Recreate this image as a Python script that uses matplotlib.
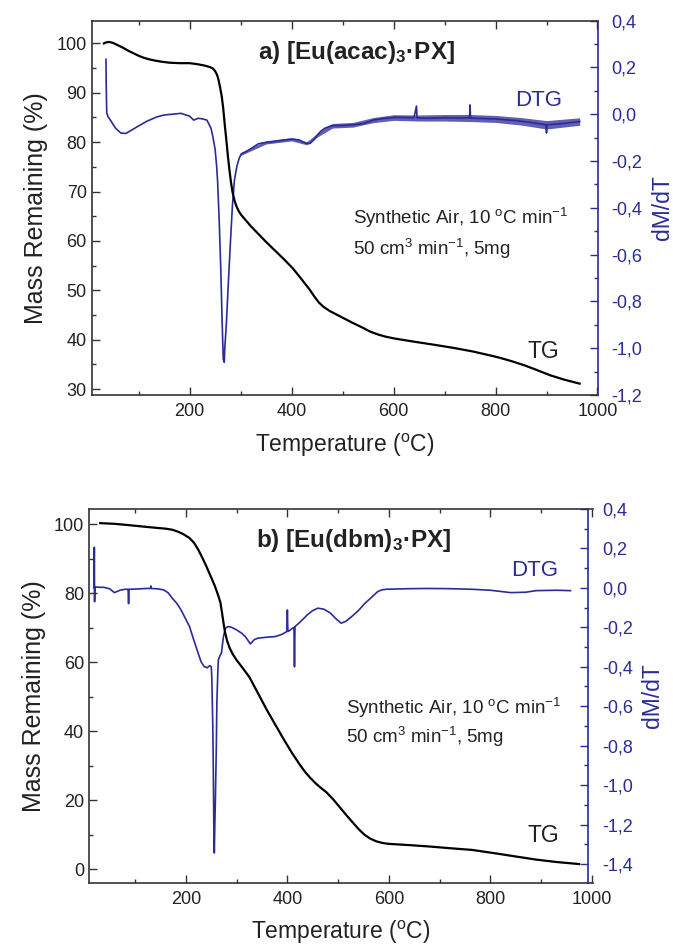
import matplotlib
matplotlib.use("Agg")
import matplotlib.pyplot as plt
from matplotlib.ticker import MultipleLocator, FuncFormatter

plt.rcParams['font.family'] = ['Liberation Sans', 'DejaVu Sans']
plt.rcParams['mathtext.fontset'] = 'custom'
plt.rcParams['mathtext.rm'] = 'Liberation Sans'
plt.rcParams['mathtext.bf'] = 'Liberation Sans:bold'
plt.rcParams['mathtext.it'] = 'Liberation Sans:italic'

# ---------------- Panel a) [Eu(acac)3·PX] ----------------
a_tg_T = [32, 36, 42, 50, 60, 70, 80, 90, 100, 110, 120, 133, 145, 160, 180, 200, 215, 230, 240, 246, 250, 254, 257, 260,
          263, 266, 269, 272, 275, 278, 281, 284, 288, 292, 296, 301, 310, 320, 335, 350, 370, 385, 402, 420, 435, 445,
          453, 462, 475, 490, 503, 520, 540, 555, 571, 585, 604, 640, 672, 720, 756, 790, 806, 830, 857, 880, 907, 935, 965]
a_tg_M = [100.0, 100.2, 100.3, 100.1, 99.6, 99.1, 98.5, 98.0, 97.5, 97.1, 96.8, 96.5, 96.3, 96.1, 96.0, 96.0, 95.8, 95.5, 95.2, 94.9, 94.4, 93.6, 92.5, 91.0,
          89.3, 86.8, 83.5, 80.5, 77.3, 74.5, 72.0, 70.0, 68.2, 67.0, 66.1, 65.3, 64.2, 63.0, 61.4, 59.8, 57.8, 56.3, 54.5, 52.2, 50.2, 48.7,
          47.6, 46.7, 45.8, 45.0, 44.3, 43.4, 42.4, 41.6, 41.0, 40.6, 40.2, 39.6, 39.1, 38.3, 37.6, 36.8, 36.4, 35.7, 34.8, 33.9, 32.8, 31.9, 31.1]

a_dtg_T = [36, 36.5, 37.5, 40, 44, 55, 65, 75, 82, 100, 116, 135, 150, 165, 183, 200, 208, 217, 226, 234, 242, 246,
           250, 253, 255, 258, 261, 264, 266, 268, 269, 272, 276, 280, 284, 288, 293, 297, 301, 310, 318, 335, 350, 368,
           385, 402, 415, 427, 436, 444, 450, 457, 465, 478, 500, 520, 540, 562, 580, 604, 640, 645, 646, 650, 672, 700,
           730, 749, 750, 751, 756, 800, 840, 870, 899, 900, 901, 930, 965]
a_dtg_d = [0.235, 0.12, 0.005, -0.01, -0.023, -0.06, -0.08, -0.082, -0.073, -0.05, -0.03, -0.012, -0.003, 0.0, 0.004, -0.008, -0.025, -0.017, -0.02, -0.025, -0.06, -0.1,
           -0.15, -0.22, -0.29, -0.45, -0.65, -0.9, -1.046, -1.06, -1.0, -0.9, -0.72, -0.55, -0.39, -0.28, -0.22, -0.19, -0.17, -0.16, -0.15, -0.126, -0.12, -0.116,
           -0.11, -0.106, -0.11, -0.123, -0.125, -0.109, -0.09, -0.073, -0.06, -0.049, -0.048, -0.045, -0.04, -0.024, -0.018, -0.013, -0.015, 0.035, -0.015, -0.016, -0.017, -0.015,
           -0.016, -0.015, 0.04, -0.016, -0.017, -0.02, -0.027, -0.035, -0.045, -0.08, -0.045, -0.04, -0.031]

# noise envelope of the DTG trace
a_band_T = [300, 350, 400, 430, 450, 480, 520, 560, 600, 650, 700, 750, 800, 850, 900, 965]
a_band_lo = [-0.176, -0.127, -0.114, -0.131, -0.098, -0.059, -0.055, -0.036, -0.026, -0.029, -0.029, -0.031, -0.035, -0.046, -0.063, -0.047]
a_band_hi = [-0.164, -0.113, -0.100, -0.117, -0.082, -0.039, -0.035, -0.014, -0.002, -0.003, -0.001, -0.001, -0.005, -0.014, -0.027, -0.015]

# ---------------- Panel b) [Eu(dbm)3·PX] ----------------
b_tg_T = [31, 60, 89, 130, 160, 173, 185, 195, 207, 216, 224, 232, 240, 248, 257, 264, 268, 271, 274, 277, 281, 286, 292,
          300, 312, 325, 340, 359, 375, 393, 410, 425, 435, 445, 455, 465, 477, 490, 502, 515, 528, 540, 552, 563, 575,
          588, 600, 640, 679, 720, 764, 806, 850, 890, 930, 975]
b_tg_M = [100.3, 100.1, 99.7, 99.1, 98.7, 98.4, 97.8, 97.1, 96.0, 94.6, 92.7, 90.4, 87.9, 85.2, 82.1, 79.2, 77.3, 74.5, 71.5, 68.8, 66.3, 64.2, 62.4,
          60.6, 58.3, 55.7, 51.6, 46.3, 42.2, 37.6, 33.5, 30.2, 28.2, 26.5, 25.0, 23.7, 22.3, 20.3, 18.2, 15.9, 13.7, 11.7, 10.0, 8.9, 8.1,
          7.6, 7.35, 7.0, 6.6, 6.1, 5.6, 4.7, 3.7, 2.8, 2.1, 1.5]

b_dtg_T = [19, 19.5, 20, 20.5, 21, 30, 38, 50, 59, 70, 80, 86, 87, 88, 100, 122, 130, 131, 132, 145, 156, 165, 173, 182, 190, 198,
           207, 215, 224, 230, 236, 242, 247, 250, 251, 253, 254, 255, 256, 257, 258, 260, 261, 263, 264, 267, 270, 274, 278,
           283, 290, 300, 310, 317, 322, 327, 335, 342, 360, 376, 390, 399, 400, 401, 405, 410, 413, 414, 415, 420, 426, 440, 450,
           460, 472, 485, 495, 506, 515, 527, 540, 553, 565, 578, 586, 595, 640, 679, 720, 764, 800, 840, 870, 890, 930, 958]
b_dtg_d = [0.0, 0.206, -0.07, 0.0, 0.005, 0.003, 0.003, -0.005, -0.024, -0.012, -0.007, -0.007, -0.08, -0.007, -0.006, -0.003, -0.003, 0.01, -0.003, -0.005, -0.01, -0.025, -0.052, -0.078, -0.11, -0.15,
           -0.195, -0.26, -0.33, -0.375, -0.399, -0.405, -0.394, -0.40, -0.45, -0.7, -0.92, -1.2, -1.344, -1.2, -1.09, -0.8, -0.585, -0.42, -0.365, -0.345, -0.331, -0.247, -0.205,
           -0.196, -0.2, -0.213, -0.23, -0.247, -0.265, -0.284, -0.262, -0.255, -0.25, -0.247, -0.235, -0.221, -0.112, -0.221, -0.215, -0.205, -0.2, -0.40, -0.196, -0.185, -0.171, -0.135, -0.115,
           -0.103, -0.108, -0.128, -0.155, -0.179, -0.17, -0.145, -0.115, -0.078, -0.05, -0.019, -0.01, -0.007, -0.004, -0.003, -0.004, -0.007, -0.012, -0.024, -0.022, -0.014, -0.012, -0.014]

BLUE = '#2b2b98'
DARK = '#222222'
W, H = 673, 947

fig = plt.figure(figsize=(W / 100, H / 100), dpi=100)


def px_rect(l, r, t, b):
    return [l / W, 1 - b / H, (r - l) / W, (b - t) / H]


def comma_fmt(v, pos):
    s = f"{v:.1f}".replace('.', ',')
    if s == '-0,0':
        s = '0,0'
    return s


def make_panel(rect, xlim, ylim, ymaj, ymin, y2lim, tgT, tgM, dT, dd, spine_pos, band=None):
    ax = fig.add_axes(rect)
    ax2 = ax.twinx()
    ax.set_zorder(ax2.get_zorder() + 1)
    ax.patch.set_visible(False)
    if band is not None:
        ax2.fill_between(band[0], band[1], band[2], color=BLUE, alpha=0.75, lw=0, zorder=1)
    ax2.plot(dT, dd, color=BLUE, lw=1.2, zorder=2)
    ax.plot(tgT, tgM, color='black', lw=1.6, zorder=3)
    ax.set_xlim(*xlim)
    ax.set_ylim(*ylim)
    ax2.set_ylim(*y2lim)
    ax.xaxis.set_major_locator(MultipleLocator(200))
    ax.xaxis.set_minor_locator(MultipleLocator(100))
    ax.yaxis.set_major_locator(MultipleLocator(ymaj))
    ax.yaxis.set_minor_locator(MultipleLocator(ymin))
    ax2.yaxis.set_major_locator(MultipleLocator(0.2))
    ax2.yaxis.set_minor_locator(MultipleLocator(0.1))
    ax2.yaxis.set_major_formatter(FuncFormatter(comma_fmt))
    for s in ['left', 'bottom', 'top']:
        ax.spines[s].set_color('#333333')
        ax.spines[s].set_linewidth(1.2)
    ax.spines['right'].set_visible(False)
    for s in ['left', 'bottom', 'top']:
        ax2.spines[s].set_visible(False)
    ax2.spines['right'].set_color(BLUE)
    ax2.spines['right'].set_linewidth(1.2)
    ax2.spines['right'].set_position(('axes', spine_pos))
    ax.tick_params(axis='both', which='major', direction='in', length=6, width=1.0,
                   colors='#333333', labelcolor=DARK, labelsize=13, top=True, right=False)
    ax.tick_params(axis='both', which='minor', direction='in', length=3, width=1.0,
                   colors='#333333', top=True, right=False)
    ax.tick_params(axis='x', which='minor', top=True, length=3)
    ax.tick_params(axis='x', pad=6)
    ax2.tick_params(axis='y', which='major', direction='in', length=6, width=1.0,
                    colors=BLUE, labelcolor=BLUE, labelsize=13, pad=10)
    ax2.tick_params(axis='y', which='minor', direction='in', length=3, width=1.0, colors=BLUE)
    ax.set_xlabel('Temperature ($^{\\mathrm{o}}$C)', fontsize=16.5, color=DARK, labelpad=8)
    ax.set_ylabel('Mass Remaining (%)', fontsize=18, color=DARK, labelpad=6)
    ax2.set_ylabel('dM/dT', fontsize=16.5, color=BLUE, labelpad=6)
    return ax, ax2


def ftext(px, py, s, **kw):
    fig.text(px / W, 1 - py / H, s, **kw)


# Panel a
make_panel(px_rect(91.7, 597.5, 20.7, 395), (8, 1000), (28.8, 104.6), 10, 5, (-1.2, 0.4),
           a_tg_T, a_tg_M, a_dtg_T, a_dtg_d, 1.0, band=(a_band_T, a_band_lo, a_band_hi))
ftext(356, 52, 'a) [Eu(acac)$_{\\mathbf{3}}$·PX]', fontsize=17.5, fontweight='bold', ha='center', va='center', color=DARK)
ftext(515, 101, 'DTG', fontsize=16, color=BLUE, ha='left', va='center')
ftext(353, 218, 'Synthetic Air, 10 $^{\\mathrm{o}}$C min$^{-1}$', fontsize=13.5, color=DARK, ha='left', va='center')
ftext(353, 249, '50 cm$^{3}$ min$^{-1}$, 5mg', fontsize=13.5, color=DARK, ha='left', va='center')
ftext(527, 351, 'TG', fontsize=16.5, color=DARK, ha='left', va='center')

# Panel b
make_panel(px_rect(89, 593.3, 509, 882.7), (9, 1003), (-3.9, 104.4), 20, 10, (-1.495, 0.4),
           b_tg_T, b_tg_M, b_dtg_T, b_dtg_d, 0.99)
ftext(354, 540, 'b) [Eu(dbm)$_{\\mathbf{3}}$·PX]', fontsize=17.5, fontweight='bold', ha='center', va='center', color=DARK)
ftext(511, 570, 'DTG', fontsize=16, color=BLUE, ha='left', va='center')
ftext(346, 708, 'Synthetic Air, 10 $^{\\mathrm{o}}$C min$^{-1}$', fontsize=13.5, color=DARK, ha='left', va='center')
ftext(346, 737, '50 cm$^{3}$ min$^{-1}$, 5mg', fontsize=13.5, color=DARK, ha='left', va='center')
ftext(527, 835, 'TG', fontsize=16.5, color=DARK, ha='left', va='center')

fig.savefig('out.png', dpi=100)
